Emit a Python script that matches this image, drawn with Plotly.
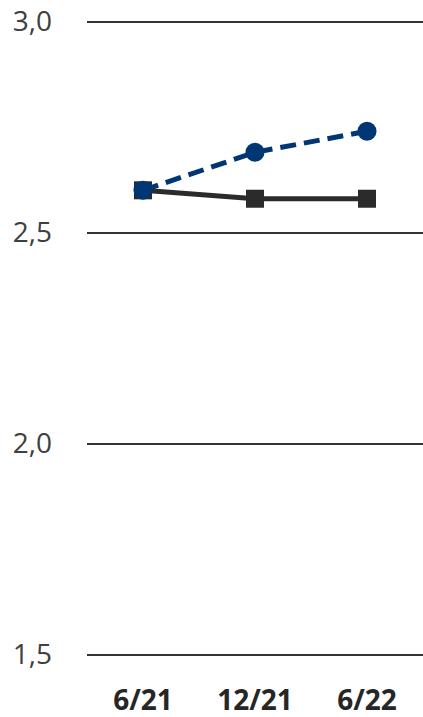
import plotly.graph_objects as go

periods = ["6/21", "12/21", "6/22"]
solid_vals = [2.60, 2.58, 2.58]
dashed_vals = [2.60, 2.69, 2.74]
y_ticks = [1.5, 2.0, 2.5, 3.0]

fig = go.Figure()

fig.add_trace(go.Scatter(
    x=periods, y=solid_vals,
    mode="lines+markers",
    line=dict(color="#2b2b2b", width=5),
    marker=dict(symbol="square", size=18, color="#2b2b2b"),
    cliponaxis=False,
))

fig.add_trace(go.Scatter(
    x=periods, y=dashed_vals,
    mode="lines+markers",
    line=dict(color="#003673", width=5, dash="16px,8px"),
    marker=dict(symbol="circle", size=19, color="#003673"),
    cliponaxis=False,
))

fig.update_layout(
    width=423, height=717,
    margin=dict(l=87, r=0, t=20, b=61),
    plot_bgcolor="white", paper_bgcolor="white",
    showlegend=False,
    separators=",.",
    font=dict(family="Open Sans", color="#404040"),
)

fig.update_xaxes(
    type="category",
    range=[-0.5, 2.5],
    showgrid=False, zeroline=False, showline=False,
    automargin=False,
    tickfont=dict(size=28, color="#262626", family="Open Sans", weight="bold"),
    ticklabelstandoff=25,
)

# small padding so plotly keeps the edge gridlines at 1.5 and 3.0
fig.update_yaxes(
    range=[1.49645, 3.00355],
    tickvals=y_ticks,
    tickformat=".1f",
    showgrid=True, gridcolor="#333333", gridwidth=1.5,
    zeroline=False, showline=False,
    automargin=False,
    tickfont=dict(size=28, color="#404040"),
    ticklabelstandoff=34,
)

# drop the default page margin so the figure sits at the window corner
fig.write_html(
    "out.html",
    config={"displayModeBar": False},
    post_script="document.body.style.margin='0';",
)
